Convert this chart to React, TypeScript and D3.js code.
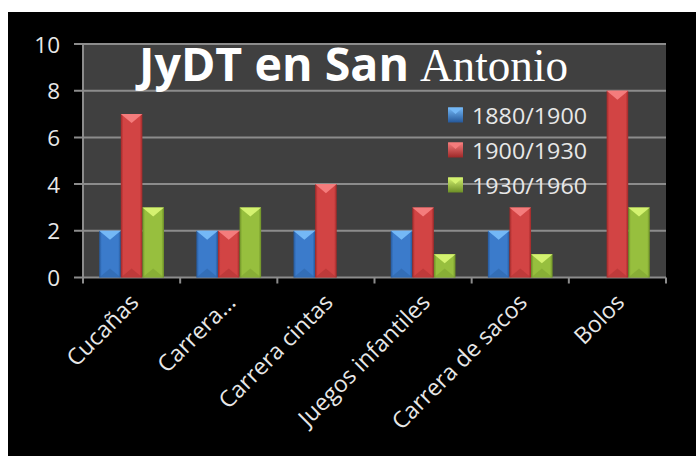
import React from "react";
import * as d3 from "d3";

const categories = ["Cucañas", "Carrera...", "Carrera cintas", "Juegos infantiles", "Carrera de sacos", "Bolos"];
const seriesNames = ["1880/1900", "1900/1930", "1930/1960"];
const s1880 = [2, 2, 2, 2, 2, 0];
const s1900 = [7, 2, 4, 3, 3, 8];
const s1930 = [3, 3, 0, 1, 1, 3];
const yTicks = [0, 2, 4, 6, 8, 10];
const seriesValues = [s1880, s1900, s1930];

const palette = [
  { main: "#3b7bcb", edge: "#25589a", top: "#74b8f6", bottom: "#2f66aa" },
  { main: "#d24444", edge: "#9e2828", top: "#f47c7c", bottom: "#b03333" },
  { main: "#97bf3e", edge: "#6c8e26", top: "#d4f270", bottom: "#7fa432" },
];

const W = 696;
const H = 456;
const plot = { left: 83, right: 666, top: 44, bottom: 277.5 };
const labelColor = "#e8e8e8";
const gridColor = "#8c8c8c";
const font = "'Open Sans', 'Liberation Sans', Arial, sans-serif";

export default function App() {
  const x = d3.scaleBand<string>().domain(categories).range([plot.left, plot.right]).paddingInner(0).paddingOuter(0);
  const y = d3.scaleLinear().domain([0, 10]).range([plot.bottom, plot.top]);
  const bw = x.bandwidth();
  const barW = bw / 4.5;
  const groupOff = (bw - 3 * barW) / 2;
  const xs = d3.scaleBand<number>().domain([0, 1, 2]).range([groupOff, groupOff + 3 * barW]).padding(0);

  const bars: React.ReactNode[] = [];
  seriesValues.forEach((vals, si) => {
    vals.forEach((v, ci) => {
      if (!v) return;
      const bx = (x(categories[ci]) as number) + (xs(si) as number);
      const by = y(v);
      const bh = y(0) - by;
      const tri = Math.min(barW * 0.42, bh / 2);
      bars.push(
        <g key={`b-${si}-${ci}`}>
          <rect x={bx} y={by} width={barW} height={bh} fill={`url(#grad${si})`} />
          <polygon
            points={`${bx},${by} ${bx + barW},${by} ${bx + barW / 2},${by + tri}`}
            fill={palette[si].top}
          />
          <polygon
            points={`${bx},${by + bh} ${bx + barW},${by + bh} ${bx + barW / 2},${by + bh - tri}`}
            fill={palette[si].bottom}
            opacity={0.6}
          />
        </g>
      );
    });
  });

  return (
    <svg
      width={W}
      height={H}
      style={{ position: "absolute", left: 0, top: 0, display: "block" }}
    >
      <defs>
        {palette.map((p, i) => (
          <linearGradient key={i} id={`grad${i}`} x1="0" x2="1" y1="0" y2="0">
            <stop offset="0" stopColor={p.edge} />
            <stop offset="0.12" stopColor={p.main} />
            <stop offset="0.88" stopColor={p.main} />
            <stop offset="1" stopColor={p.edge} />
          </linearGradient>
        ))}
        {palette.map((p, i) => (
          <linearGradient key={`l${i}`} id={`lg${i}`} x1="0" x2="0" y1="0" y2="1">
            <stop offset="0" stopColor={p.top} />
            <stop offset="1" stopColor={p.edge} />
          </linearGradient>
        ))}
      </defs>
      <rect x={0} y={0} width={W} height={H} fill="#ffffff" />
      <rect x={8} y={12} width={W - 8} height={H - 12} fill="#000000" />
      <rect
        x={plot.left}
        y={plot.top}
        width={plot.right - plot.left}
        height={plot.bottom - plot.top}
        fill="#404040"
      />
      {yTicks.map((t) => (
        <g key={`yt${t}`}>
          <line x1={74} x2={plot.right} y1={y(t)} y2={y(t)} stroke={gridColor} strokeWidth={2} />
          <text
            x={60}
            y={y(t)}
            textAnchor="end"
            dominantBaseline="central"
            fill={labelColor}
            fontFamily={font}
            fontSize={22.5}
          >
            {t}
          </text>
        </g>
      ))}
      <line x1={plot.left} x2={plot.left} y1={plot.top} y2={plot.bottom + 6} stroke={gridColor} strokeWidth={2} />
      {categories.map((c, i) => (
        <line
          key={`xt${i}`}
          x1={(x(c) as number) + bw}
          x2={(x(c) as number) + bw}
          y1={plot.bottom}
          y2={plot.bottom + 6}
          stroke={gridColor}
          strokeWidth={2}
        />
      ))}
      {bars}
      {categories.map((c, i) => {
        const cx = (x(c) as number) + bw / 2 + 2;
        const cy = plot.bottom + 20;
        return (
          <text
            key={`xl${i}`}
            transform={`translate(${cx},${cy}) rotate(-45)`}
            textAnchor="end"
            dominantBaseline="central"
            fill={labelColor}
            fontFamily={font}
            fontSize={23}
          >
            {c}
          </text>
        );
      })}
      {seriesNames.map((s, i) => {
        const cy = 115 + i * 35;
        return (
          <g key={`lg${i}`}>
            <rect x={448} y={cy - 7.5} width={15} height={15} fill={`url(#lg${i})`} />
            <polygon points={`${448},${cy - 7.5} ${463},${cy - 7.5} ${455.5},${cy - 1}`} fill={palette[i].top} />
            <text
              x={472}
              y={cy}
              dominantBaseline="central"
              fill={labelColor}
              fontFamily={font}
              fontSize={22.5}
              textLength={115}
              lengthAdjust="spacingAndGlyphs"
            >
              {s}
            </text>
          </g>
        );
      })}
      <text
        x={139}
        y={81}
        fill="#ffffff"
        fontFamily={font}
        fontWeight="bold"
        fontSize={46}
        textLength={270}
        lengthAdjust="spacingAndGlyphs"
      >
        JyDT en San
      </text>
      <text
        x={420}
        y={81}
        fill="#ffffff"
        fontFamily="'Liberation Serif', 'DejaVu Serif', serif"
        fontSize={46}
        textLength={148}
        lengthAdjust="spacingAndGlyphs"
      >
        Antonio
      </text>
    </svg>
  );
}
